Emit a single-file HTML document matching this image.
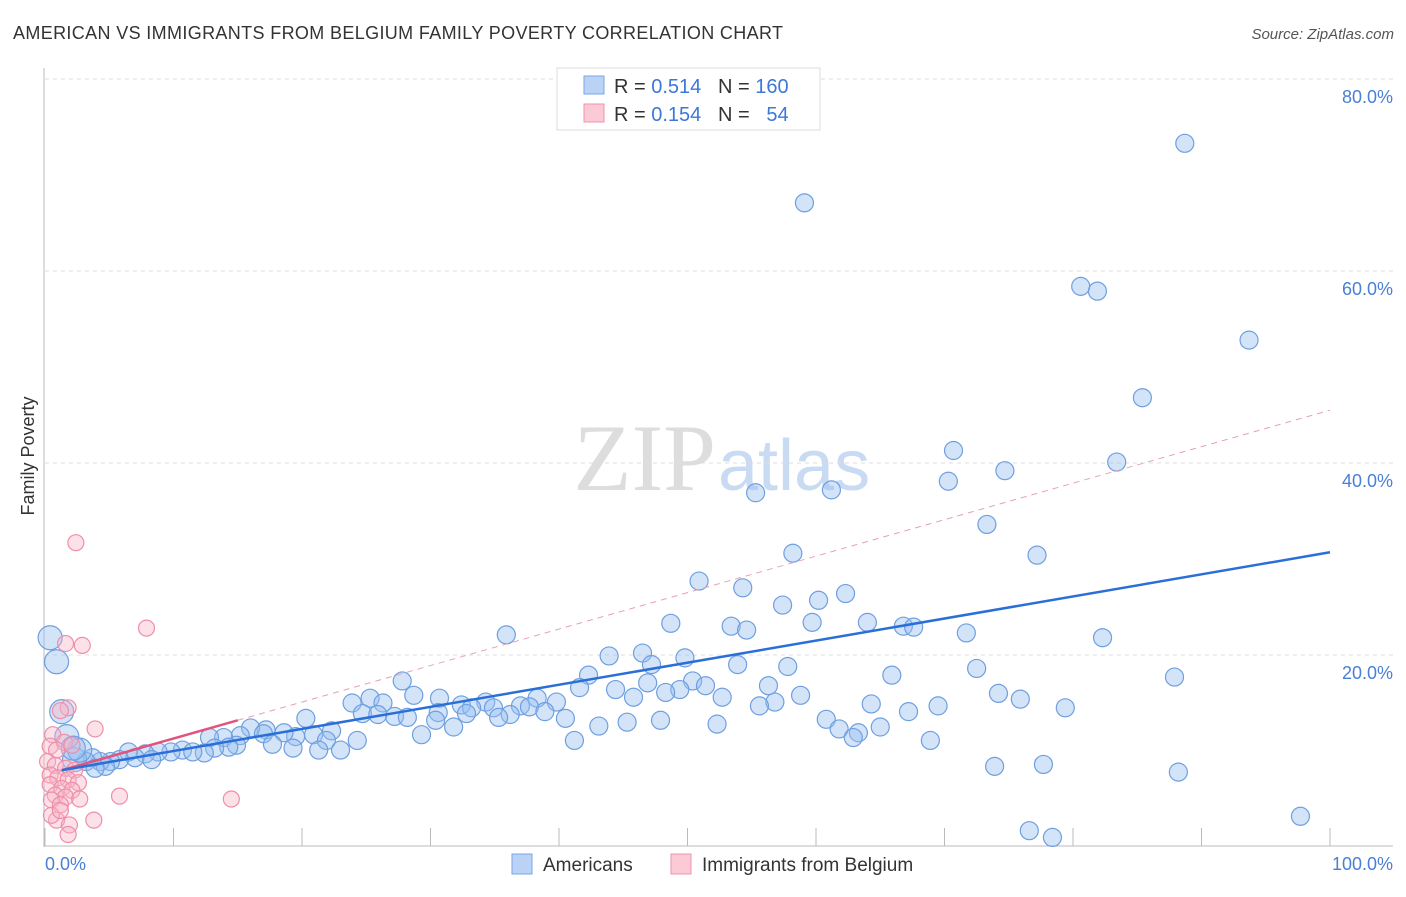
<!DOCTYPE html>
<html><head><meta charset="utf-8"><style>
body{margin:0;background:#fff;font-family:"Liberation Sans",sans-serif}
svg text{font-family:"Liberation Sans",sans-serif}
</style></head><body>
<svg width="1406" height="892">
<text x="13" y="39" font-size="18" fill="#333" textLength="770" lengthAdjust="spacing">AMERICAN VS IMMIGRANTS FROM BELGIUM FAMILY POVERTY CORRELATION CHART</text>
<text x="1394" y="39" font-size="15" fill="#555" font-style="italic" text-anchor="end">Source: ZipAtlas.com</text>
<text x="716" y="490" font-size="95" fill="#ddd" text-anchor="end" style="font-family:'Liberation Serif',serif">ZIP</text>
<text x="718" y="490" font-size="72" fill="#c9daf3">atlas</text>
<g id="grid"></g>
<g id="pts"></g>
<g id="lines"></g>
<text transform="translate(34,456) rotate(-90)" font-size="18" fill="#333" text-anchor="middle">Family Poverty</text>
<text x="45" y="870" font-size="18" fill="#4a7fd6">0.0%</text>
<text x="1393" y="870" font-size="18" fill="#4a7fd6" text-anchor="end">100.0%</text>
<g>
<rect x="557" y="68" width="263" height="62" fill="#fff" stroke="#ddd"/>
<rect x="584" y="76" width="20" height="18" fill="#b9d2f5" stroke="#7aa6e6"/>
<rect x="584" y="104" width="20" height="18" fill="#fcc9d6" stroke="#ef93ac"/>
<text x="614" y="93" font-size="20" fill="#333">R = <tspan fill="#3b78d8">0.514</tspan>&#160;&#160;&#160;N = <tspan fill="#3b78d8">160</tspan></text>
<text x="614" y="121" font-size="20" fill="#333">R = <tspan fill="#3b78d8">0.154</tspan>&#160;&#160;&#160;N = &#160;&#160;<tspan fill="#3b78d8">54</tspan></text>
</g>
<g>
<rect x="512" y="854" width="20" height="20" fill="#b9d2f5" stroke="#7aa6e6"/>
<text x="543" y="871" font-size="19" fill="#333">Americans</text>
<rect x="671" y="854" width="20" height="20" fill="#fcc9d6" stroke="#ef93ac"/>
<text x="702" y="871" font-size="19" fill="#333">Immigrants from Belgium</text>
</g>
</svg>
<script>
const yTicks=[20,40,60,80];
const xTicks=[0,10,20,30,40,50,60,70,80,90,100];
const blueX=[88.7,59.1,80.6,81.9,93.7,85.4,70.7,55.3,61.2,70.3,74.7,83.4,73.3,77.2,58.2,50.9,54.3,62.3,60.2,57.4,48.7,59.7,64.0,53.4,54.6,66.8,67.6,71.7,82.3,35.9,43.9,46.5,49.8,47.2,53.9,57.8,72.5,65.9,87.9,42.3,27.8,50.4,46.9,44.4,51.4,56.3,41.6,49.4,48.3,52.7,45.8,58.8,74.2,75.9,28.7,30.7,25.3,26.3,23.9,38.3,39.8,34.3,32.4,33.2,37.0,37.7,56.8,55.6,64.3,69.5,67.2,79.4,34.9,32.8,30.6,24.7,27.2,28.2,25.9,20.3,30.4,38.9,36.2,40.5,35.3,60.8,45.3,47.9,52.3,43.1,31.8,29.3,61.8,65.0,63.3,62.9,68.9,41.2,24.3,22.3,20.9,21.9,19.5,18.6,17.2,16.0,17.0,15.2,13.9,12.8,17.7,19.3,21.3,23.0,14.9,14.3,13.2,12.4,10.7,9.8,11.5,8.8,7.8,6.5,7.0,8.3,5.8,5.1,4.3,3.7,3.2,4.7,3.9,2.3,2.7,1.7,2.2,1.3,0.4,0.9,73.9,77.7,88.2,76.6,78.4,97.7];
const blueY=[73.3,67.1,58.4,57.9,52.8,46.8,41.3,36.9,37.2,38.1,39.2,40.1,33.6,30.4,30.6,27.7,27.0,26.4,25.7,25.2,23.3,23.4,23.4,23.0,22.6,23.0,22.9,22.3,21.8,22.1,19.9,20.2,19.7,19.0,19.0,18.8,18.6,17.9,17.7,17.9,17.3,17.3,17.1,16.4,16.8,16.8,16.6,16.4,16.1,15.6,15.6,15.8,16.0,15.4,15.8,15.5,15.5,15.0,15.0,15.5,15.1,15.1,14.8,14.5,14.7,14.6,15.1,14.7,14.9,14.7,14.1,14.5,14.5,13.9,14.0,13.9,13.6,13.5,13.8,13.4,13.2,14.1,13.8,13.4,13.5,13.3,13.0,13.2,12.8,12.6,12.5,11.7,12.3,12.5,11.9,11.4,11.1,11.1,11.1,12.1,11.7,11.1,11.5,11.9,12.2,12.4,11.8,11.6,11.4,11.4,10.7,10.3,10.1,10.1,10.6,10.4,10.3,9.8,10.1,9.9,9.9,9.9,9.7,9.9,9.3,9.1,9.1,8.9,8.9,9.3,8.9,8.4,8.2,9.1,10.1,11.5,10.3,14.1,21.8,19.3,8.4,8.6,7.8,1.7,1.0,3.2];
const pinkX=[2.4,7.9,1.6,2.9,1.8,1.2,3.9,0.6,0.4,1.5,2.1,0.9,0.2,0.8,1.6,2.3,0.4,1.0,1.8,2.6,0.4,1.3,2.1,0.8,1.6,2.7,0.5,1.2,5.8,14.5,0.9,1.9,3.8,1.8,0.5,1.2];
const pinkY=[31.7,22.8,21.2,21.0,14.5,14.2,12.3,11.7,10.5,10.9,10.6,10.1,8.9,8.5,8.2,8.0,7.5,7.2,7.0,6.7,6.5,6.1,5.9,5.4,5.2,5.0,4.9,4.4,5.3,5.0,2.8,2.3,2.8,1.3,3.3,3.8];
const blueFit=[7.7,30.7];
const pinkFit=[7.5,45.5];
const NS='http://www.w3.org/2000/svg';
const sx=v=>45+v*12.85, sy=v=>847-v*9.6;
function mk(t,a,p){const e=document.createElementNS(NS,t);for(const k in a)e.setAttribute(k,a[k]);p.appendChild(e);return e;}
const grid=document.getElementById('grid'),pts=document.getElementById('pts'),lines=document.getElementById('lines');
yTicks.forEach(t=>{
 const l=mk('line',{x1:45,x2:1393,y1:sy(t),y2:sy(t),stroke:'#ddd','stroke-dasharray':'4,4'},grid);
 
 
 const tx=mk('text',{x:1393,y:sy(t)+24,'font-size':18,fill:'#4a7fd6','text-anchor':'end'},grid);tx.textContent=t.toFixed(1)+'%';
 
 
});
const ax=mk('line',{x1:44,x2:44,y1:68,y2:847,stroke:'#bbb'},grid);


const bx=mk('line',{x1:44,x2:1393,y1:846,y2:846,stroke:'#bbb'},grid);


xTicks.forEach(t=>{const l=mk('line',{x1:sx(t),x2:sx(t),y1:828,y2:846,stroke:'#bbb'},grid);
 
 });
blueX.forEach((x,i)=>{const r=(x<3)?12:9;const c=mk('circle',{cx:sx(x),cy:sy(blueY[i]),r:r,fill:'rgba(150,190,240,0.42)',stroke:'#6f9fe0','stroke-width':1.2},pts);
 
 });
pinkX.forEach((x,i)=>{const c=mk('circle',{cx:sx(x),cy:sy(pinkY[i]),r:8,fill:'rgba(248,180,200,0.4)',stroke:'#ee8fa9','stroke-width':1.2},pts);
 
 });
const fy=(f,x)=>f[0]+(f[1]-f[0])*x/100;
const pd=mk('line',{x1:sx(15),y1:sy(fy(pinkFit,15)),x2:sx(100),y2:sy(fy(pinkFit,100)),stroke:'#e8a0b5','stroke-dasharray':'6,5','stroke-width':1},lines);


const ps=mk('line',{x1:sx(1.3),y1:sy(fy(pinkFit,1.3)),x2:sx(15),y2:sy(fy(pinkFit,15)),stroke:'#e0557e','stroke-width':2.5},lines);


const bl=mk('line',{x1:sx(1.3),y1:sy(fy(blueFit,1.3)),x2:sx(100),y2:sy(fy(blueFit,100)),stroke:'#2a6fd8','stroke-width':2.5},lines);


</script>
</body></html>
